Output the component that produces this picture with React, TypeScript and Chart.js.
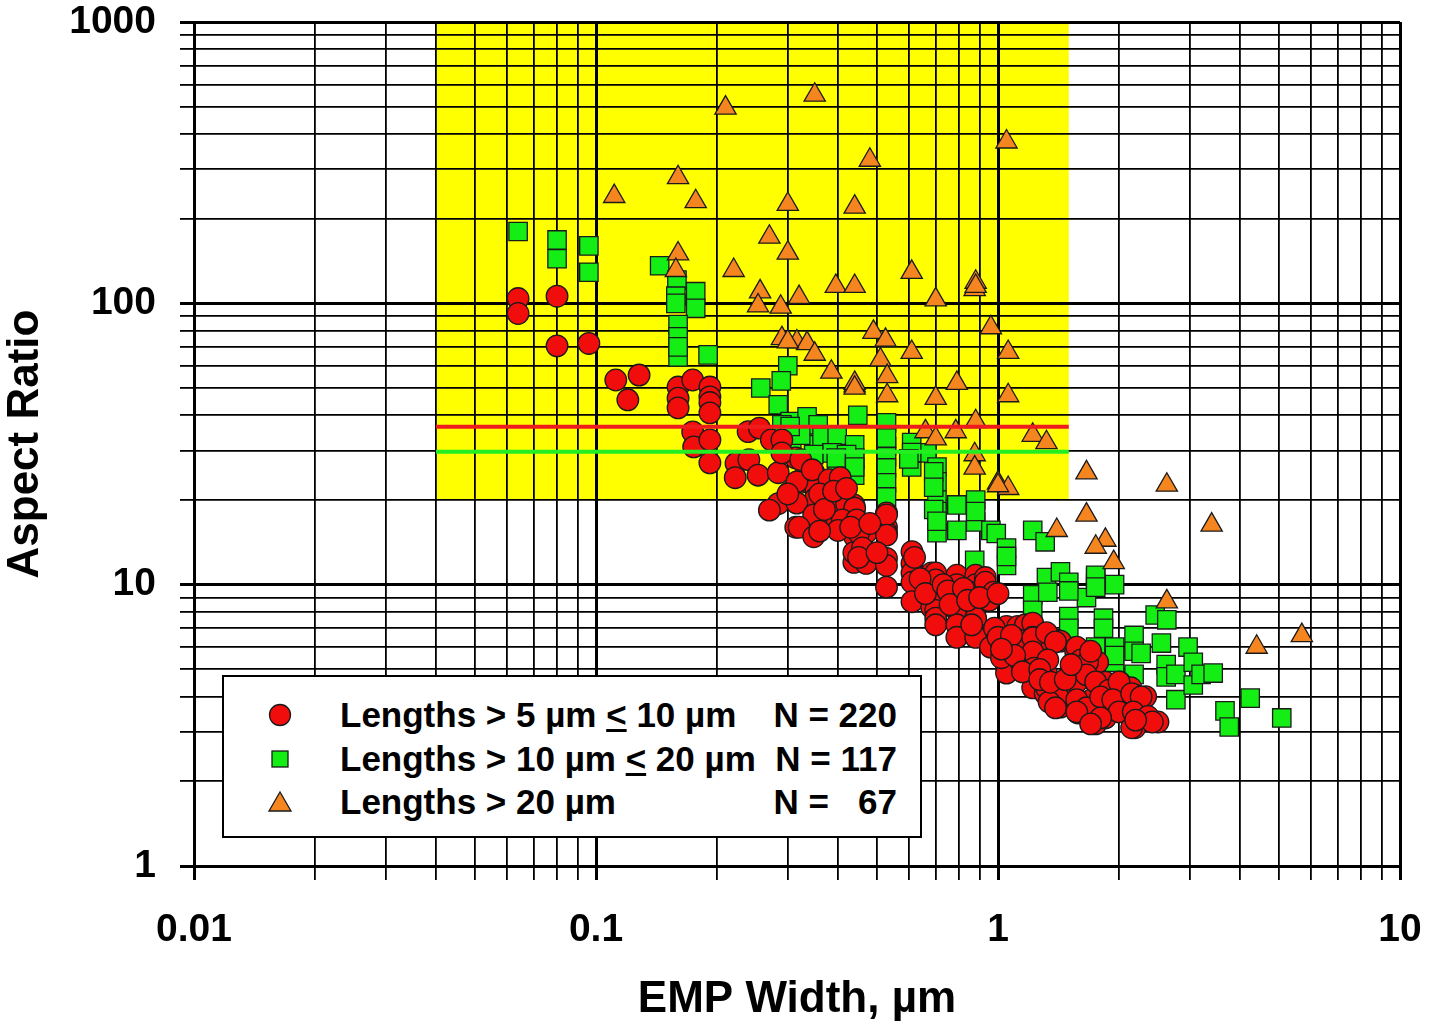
import React, { useEffect, useRef } from 'react';
import { Chart, registerables } from 'chart.js';

Chart.register(...registerables);

const FONT = '"Liberation Sans", Arial, Helvetica, sans-serif';

// axes
const X_DECADES = [0.01, 0.1, 1, 10];
const X_LABELS = ['0.01', '0.1', '1', '10'];
const Y_DECADES = [1, 10, 100, 1000];
const Y_LABELS = ['1', '10', '100', '1000'];
const MINOR_STEPS = [2, 3, 4, 5, 6, 7, 8, 9];

// shaded region and limit lines
const REGION_WIDTH = [0.04, 1.5];
const REGION_RATIO = [20, 1000];
const LIMIT_WIDTH = [0.04, 1.5];
const RED_LIMIT = 36.4;
const GREEN_LIMIT = 29.7;

// [width um, aspect ratio]
const SHORT_FIBERS: [number, number][] = [
  [0.064, 104], [0.064, 92], [0.08, 106], [0.08, 70.6], [0.096, 72],
  [0.112, 53.4], [0.128, 55.6], [0.12, 45.4],
  [0.16, 50.4], [0.16, 46], [0.16, 42.5], [0.174, 53.4],
  [0.192, 50.4], [0.192, 46.5], [0.192, 44.4], [0.192, 40.8],
  [0.174, 34.9], [0.175, 30.9], [0.192, 32.7], [0.192, 27.1],
  [0.239, 35], [0.255, 36], [0.273, 32.7], [0.223, 27], [0.24, 27.8], [0.222, 24], [0.253, 24.5], [0.284, 25],
  [0.302, 21.2], [0.284, 19.4], [0.27, 18.4], [0.314, 16],
  [0.314, 28.2], [0.333, 25], [0.348, 25.1], [0.333, 23.2], [0.352, 22], [0.352, 20.3], [0.316, 23.2], [0.316, 19.5],
  [0.348, 17.7], [0.32, 16], [0.348, 14.8], [0.38, 16.3], [0.398, 16.5], [0.41, 19.2], [0.438, 19.2], [0.438, 18],
  [0.44, 14.8], [0.47, 15.3], [0.438, 12], [0.47, 11.9], [0.438, 13],
  [0.29, 32.7], [0.29, 29.4], [0.323, 27.8], [0.345, 25.6], [0.38, 23.6], [0.405, 24],
  [0.3, 21], [0.42, 19.4], [0.44, 18.7], [0.41, 17], [0.445, 17], [0.45, 15.3], [0.4, 15.6],
  [0.528, 18], [0.528, 16], [0.528, 15.3], [0.528, 17.7], [0.528, 15], [0.528, 12.4], [0.528, 11.7], [0.528, 9.8],
  [0.611, 13.1], [0.611, 11.9], [0.611, 11], [0.611, 10.2], [0.611, 8.7],
  [0.684, 11], [0.684, 9.8], [0.684, 8.3],
  [0.7, 11], [0.7, 10.4], [0.7, 8.9], [0.7, 8.1], [0.7, 7.6], [0.7, 7.2],
  [0.79, 10.8], [0.79, 10], [0.79, 9], [0.79, 8.1], [0.79, 7.2], [0.79, 6.5],
  [0.88, 10.8], [0.88, 10], [0.88, 9.4], [0.88, 8.3], [0.88, 7.6], [0.88, 6.5],
  [0.93, 10.6], [0.93, 10.2], [0.975, 9.4], [0.975, 6], [0.95, 8.8],
  [1.05, 7.1], [1.05, 6], [1.05, 5.1], [1.05, 4.85], [1.12, 7.1], [1.17, 7.2],
  [1.22, 7.3], [1.22, 6.5], [1.22, 5.8], [1.14, 5.8], [1.14, 5.3], [1.31, 6.5], [1.31, 6], [1.4, 6.35], [1.32, 5.4], [1.32, 4.85],
  [1.22, 4.3], [1.31, 4.1], [1.43, 4], [1.43, 3.67],
  [1.57, 5.9], [1.65, 5.4], [1.61, 5], [1.66, 4.7], [1.52, 3.9], [1.58, 3.5], [1.75, 3.4], [1.85, 3.36],
  [1.43, 6.3], [1.56, 5.8], [1.77, 5.3], [1.75, 4.5], [1.48, 4], [1.45, 4.2],
  [1.85, 4.5], [2.01, 4.5], [2.14, 4.3], [2.19, 4.05], [2.33, 4], [1.71, 3.9], [1.75, 3.2],
  [2.01, 3.54], [2.19, 3.1], [2.35, 3.36], [2.5, 3.25],
  [0.958, 6], [1.05, 5.87], [1.12, 6.37], [1.22, 6.47], [1.32, 6.75], [1.39, 6.26],
  [1.22, 5.77], [1.33, 5.4], [1.23, 5.05],
  [1.57, 6], [1.61, 5.4], [1.67, 5.3],
  [1.32, 4.3], [1.41, 3.99], [1.34, 3.83], [1.39, 3.65],
  [1.57, 4.51], [1.66, 4.78], [1.75, 4.51], [1.89, 4.22], [2, 4.51],
  [1.57, 3.9], [1.66, 3.65], [1.57, 3.53], [1.8, 3.99], [1.93, 3.9],
  [2.15, 4.1], [2.27, 3.99], [2, 3.53], [2.17, 3.53], [2.36, 3.4], [2.42, 3.25],
  [1.8, 3.36], [2.15, 3.1], [1.7, 3.2], [2.2, 3.3],
  [0.36, 21], [0.37, 18.5], [0.39, 21.5], [0.42, 22], [0.36, 15.5], [0.43, 16], [0.46, 13.5], [0.45, 12.5], [0.5, 13], [0.48, 16.5],
  [0.62, 12.5], [0.64, 10.5], [0.66, 9.3], [0.73, 10], [0.75, 9.5], [0.76, 8.5], [0.82, 9.7], [0.84, 8.8], [0.86, 7.2], [0.9, 9],
  [0.98, 7], [1, 6.5], [1.02, 5.5], [1.08, 6.6], [1.1, 5.6], [1.15, 4.9], [1.27, 5], [1.27, 4.6], [1.35, 4.5], [1.47, 4.6],
  [1.52, 5.2], [1.7, 5.8], [1, 9.3], [1.02, 5.9],
];

const MID_FIBERS: [number, number][] = [
  [0.064, 180], [0.08, 168], [0.08, 144], [0.096, 160], [0.096, 129],
  [0.144, 136], [0.159, 121], [0.158, 106], [0.177, 110], [0.177, 96],
  [0.158, 100], [0.16, 84], [0.16, 76], [0.16, 64.5], [0.19, 65.6],
  [0.3, 60], [0.289, 53], [0.257, 50], [0.284, 43.6], [0.304, 38],
  [0.307, 32.7], [0.335, 39.5], [0.357, 37], [0.448, 40], [0.528, 37.6],
  [0.348, 31.4], [0.365, 33.5], [0.398, 34], [0.44, 31.4], [0.398, 27.8],
  [0.44, 24.5], [0.44, 28.2], [0.398, 26], [0.528, 31], [0.528, 28.5],
  [0.528, 26], [0.528, 23], [0.528, 20.5], [0.61, 32], [0.61, 26.2],
  [0.665, 29.4], [0.705, 26.2], [0.705, 23.2], [0.705, 20], [0.705, 18.2],
  [0.705, 15.3], [0.79, 19.2], [0.88, 20], [0.88, 16.7], [0.96, 15.6],
  [0.79, 15.6], [1.22, 15.6], [0.29, 37], [0.323, 34], [0.386, 29.4],
  [0.42, 29], [0.304, 36.5], [0.348, 29], [0.396, 28.2], [0.44, 27.8],
  [0.692, 25.2], [0.692, 22.2], [0.692, 18.5], [0.528, 33.2], [0.99, 15.2],
  [1.05, 13.5], [1.05, 11.7], [0.875, 12.2], [1.31, 14.2], [1.32, 10.6],
  [1.43, 11.1], [1.5, 10.2], [1.22, 9.2], [1.22, 8.1], [1.33, 9.4],
  [1.66, 9], [1.75, 10.6], [1.75, 10.1], [1.95, 10], [1.5, 7.7],
  [1.5, 7], [1.83, 7.6], [1.83, 7], [1.75, 6], [1.95, 6],
  [1.95, 5.3], [1.75, 10.8], [1.75, 9.8], [2.46, 7.8], [2.63, 7.5],
  [2.18, 6.6], [2.18, 5.8], [2.27, 5.7], [2.18, 4.8], [2.55, 6.2],
  [2.62, 5.2], [2.62, 4.7], [2.77, 4.8], [2.77, 3.9], [2.97, 6],
  [3.06, 5.3], [3.06, 4.4], [3.2, 4.8], [3.43, 4.85], [3.67, 3.56],
  [3.76, 3.12], [4.24, 3.95], [5.08, 3.36],
  [0.705, 16.8], [0.88, 18.2], [1.05, 12.6], [0.61, 29.5], [0.16, 70], [0.44, 26.2], [1.5, 9.5], [0.6, 28], [1.95, 5.6],
];

const LONG_FIBERS: [number, number][] = [
  [0.21, 495], [0.16, 280], [0.111, 240], [0.177, 230], [0.3, 225],
  [0.27, 172], [0.3, 151], [0.16, 150], [0.158, 131], [0.22, 131],
  [0.256, 110], [0.253, 98], [0.288, 97], [0.35, 550], [1.05, 375],
  [0.48, 323], [0.44, 220], [0.61, 129], [0.395, 115], [0.44, 115],
  [0.32, 105], [0.88, 119], [0.875, 112], [0.7, 103], [0.96, 82],
  [0.49, 79], [0.525, 74], [0.29, 75], [0.316, 73], [0.335, 72],
  [0.35, 66], [0.61, 67], [1.06, 67], [0.51, 63], [0.385, 57],
  [0.53, 55], [0.44, 51], [0.44, 52], [0.79, 52], [0.53, 47],
  [0.7, 46], [1.06, 47], [0.88, 38], [0.66, 35], [0.785, 35],
  [0.7, 33], [1.22, 34], [1.32, 32], [0.875, 29], [0.875, 26],
  [1, 23], [1.06, 22], [1.66, 25], [1.66, 17.7], [1.4, 15.6],
  [2.63, 22.6], [3.4, 16.3], [1.85, 14.4], [1.75, 13.6], [1.94, 12],
  [2.63, 8.7], [5.7, 6.6], [4.4, 6], [0.3, 73], [0.44, 50],
  [0.88, 115], [1, 22.5],
];

const RED = '#f20d0d';
const GREEN = '#14ee14';
const ORANGE = '#f5861f';
const EDGE = '#1a1a1a';

const buildTicks = (decades: number[]) => {
  const out: number[] = [];
  decades.forEach((d, i) => {
    out.push(d);
    if (i < decades.length - 1) {
      MINOR_STEPS.forEach((m) => out.push(parseFloat((d * m).toPrecision(6))));
    }
  });
  return out;
};

const X_TICKS = buildTicks(X_DECADES);
const Y_TICKS = buildTicks(Y_DECADES);

const toXY = (pts: [number, number][]) => pts.map(([x, y]) => ({ x, y }));

const regionPlugin = {
  id: 'region',
  beforeDraw(chart: any) {
    const { ctx, scales } = chart;
    const left = scales.x.getPixelForValue(REGION_WIDTH[0]);
    const right = scales.x.getPixelForValue(REGION_WIDTH[1]);
    const top = scales.y.getPixelForValue(REGION_RATIO[1]);
    const bottom = scales.y.getPixelForValue(REGION_RATIO[0]);
    ctx.save();
    ctx.fillStyle = '#ffff00';
    ctx.fillRect(left, top, right - left, bottom - top);
    ctx.restore();
  },
};

const tickFont = { family: FONT, size: 39, weight: 'bold' as const, lineHeight: 1 };
const titleFont = { family: FONT, size: 44, weight: 'bold' as const, lineHeight: 1 };

const LEGEND_ROWS = [
  { shape: 'circle', before: 'Lengths > 5 µm ', after: ' 10 µm', under: true, n: 'N = 220' },
  { shape: 'square', before: 'Lengths > 10 µm ', after: ' 20 µm', under: true, n: 'N = 117' },
  { shape: 'triangle', before: 'Lengths > 20 µm', after: '', under: false, n: 'N =   67' },
];
const LEGEND_CENTERS = [38, 82, 125];

const Symbol: React.FC<{ shape: string }> = ({ shape }) => (
  <svg width={26} height={26} viewBox="0 0 26 26" style={{ position: 'absolute', left: 43, top: 7 }}>
    {shape === 'circle' && <circle cx={13} cy={13} r={10.5} fill={RED} stroke={EDGE} strokeWidth={1.3} />}
    {shape === 'square' && <rect x={5} y={5} width={16} height={16} fill={GREEN} stroke={EDGE} strokeWidth={1.3} />}
    {shape === 'triangle' && <polygon points="13,3 24,22 2,22" fill={ORANGE} stroke={EDGE} strokeWidth={1.3} />}
  </svg>
);

const App: React.FC = () => {
  const chartRef = useRef<HTMLCanvasElement>(null);
  const chartInstance = useRef<Chart | null>(null);

  useEffect(() => {
    if (!chartRef.current) return;
    const ctx = chartRef.current.getContext('2d');
    if (!ctx) return;
    if (chartInstance.current) chartInstance.current.destroy();

    const gridWidth = (decades: number[]) => (c: any) =>
      c.tick && decades.includes(c.tick.value) ? 3 : 1.8;

    chartInstance.current = new Chart(ctx, {
      type: 'scatter',
      data: {
        datasets: [
          {
            type: 'line' as const,
            label: 'red limit',
            data: LIMIT_WIDTH.map((x) => ({ x, y: RED_LIMIT })),
            borderColor: '#ee1c1c',
            borderWidth: 4,
            pointRadius: 0,
            order: 0,
          },
          {
            type: 'line' as const,
            label: 'green limit',
            data: LIMIT_WIDTH.map((x) => ({ x, y: GREEN_LIMIT })),
            borderColor: '#22ee22',
            borderWidth: 4,
            pointRadius: 0,
            order: 0,
          },
          {
            label: 'Lengths > 20 µm',
            data: toXY(LONG_FIBERS),
            pointStyle: 'triangle',
            pointRadius: 12.3,
            backgroundColor: ORANGE,
            borderColor: EDGE,
            borderWidth: 1.3,
            order: 2,
          },
          {
            label: 'Lengths > 5 µm ≤ 10 µm',
            data: toXY(SHORT_FIBERS),
            pointStyle: 'circle',
            pointRadius: 10.8,
            backgroundColor: RED,
            borderColor: EDGE,
            borderWidth: 1.3,
            order: 3,
          },
          {
            label: 'Lengths > 10 µm ≤ 20 µm',
            data: toXY(MID_FIBERS),
            pointStyle: 'rect',
            pointRadius: 13,
            backgroundColor: GREEN,
            borderColor: EDGE,
            borderWidth: 1.3,
            order: 4,
          },
        ] as any,
      },
      options: {
        responsive: false,
        animation: false,
        events: [],
        layout: { padding: { left: 0, right: 29, top: 22, bottom: 0 } },
        plugins: { legend: { display: false }, tooltip: { enabled: false } },
        scales: {
          x: {
            type: 'logarithmic',
            position: 'bottom',
            min: 0.01,
            max: 10,
            afterBuildTicks: (s: any) => {
              s.ticks = X_TICKS.map((value) => ({ value }));
            },
            afterFit: (s: any) => {
              s.height = 165;
              s.paddingLeft = 0;
              s.paddingRight = 0;
            },
            ticks: {
              autoSkip: false,
              maxRotation: 0,
              minRotation: 0,
              padding: 31,
              color: '#000',
              font: tickFont,
              callback: (v: any) => {
                const i = X_DECADES.indexOf(Number(v));
                return i >= 0 ? X_LABELS[i] : '';
              },
            },
            grid: {
              color: '#000',
              lineWidth: gridWidth(X_DECADES),
              tickLength: 14,
              tickColor: '#000',
              tickWidth: gridWidth(X_DECADES),
            },
            border: { display: true, color: '#000', width: 3 },
            title: {
              display: true,
              text: 'EMP Width, µm',
              color: '#000',
              font: titleFont,
              padding: { top: 0, bottom: 9 },
            },
          },
          y: {
            type: 'logarithmic',
            position: 'left',
            min: 1,
            max: 1000,
            afterBuildTicks: (s: any) => {
              s.ticks = Y_TICKS.map((value) => ({ value }));
            },
            afterFit: (s: any) => {
              s.width = 194;
              s.paddingTop = 0;
              s.paddingBottom = 0;
            },
            ticks: {
              autoSkip: false,
              padding: 24,
              color: '#000',
              font: tickFont,
              callback: (v: any) => {
                const i = Y_DECADES.indexOf(Number(v));
                return i >= 0 ? Y_LABELS[i] : '';
              },
            },
            grid: {
              color: '#000',
              lineWidth: gridWidth(Y_DECADES),
              tickLength: 14,
              tickColor: '#000',
              tickWidth: gridWidth(Y_DECADES),
            },
            border: { display: true, color: '#000', width: 3 },
            title: {
              display: true,
              text: 'Aspect Ratio',
              color: '#000',
              font: titleFont,
              padding: { top: 4, bottom: 0 },
            },
          },
        },
      },
      plugins: [regionPlugin],
    });

    return () => {
      if (chartInstance.current) {
        chartInstance.current.destroy();
        chartInstance.current = null;
      }
    };
  }, []);

  return (
    <div style={{ position: 'absolute', left: 0, top: 0, width: 1429, height: 1031, background: '#fff' }}>
      <canvas ref={chartRef} width={1429} height={1031} />
      <div
        style={{
          position: 'absolute',
          left: 222,
          top: 675,
          width: 700,
          height: 163,
          boxSizing: 'border-box',
          border: '2px solid #000',
          background: '#fff',
          fontFamily: FONT,
          fontWeight: 'bold',
          fontSize: 35,
          color: '#000',
        }}
      >
        {LEGEND_ROWS.map((row, i) => (
          <div
            key={row.n}
            style={{ position: 'absolute', left: 0, right: 0, top: LEGEND_CENTERS[i] - 20, height: 40, lineHeight: '40px' }}
          >
            <Symbol shape={row.shape} />
            <span style={{ position: 'absolute', left: 116, whiteSpace: 'pre' }}>
              {row.before}
              {row.under && <span style={{ textDecoration: 'underline', textDecorationThickness: 3 }}>{'<'}</span>}
              {row.after}
            </span>
            <span style={{ position: 'absolute', right: 23, whiteSpace: 'pre' }}>{row.n}</span>
          </div>
        ))}
      </div>
    </div>
  );
};

export default App;
